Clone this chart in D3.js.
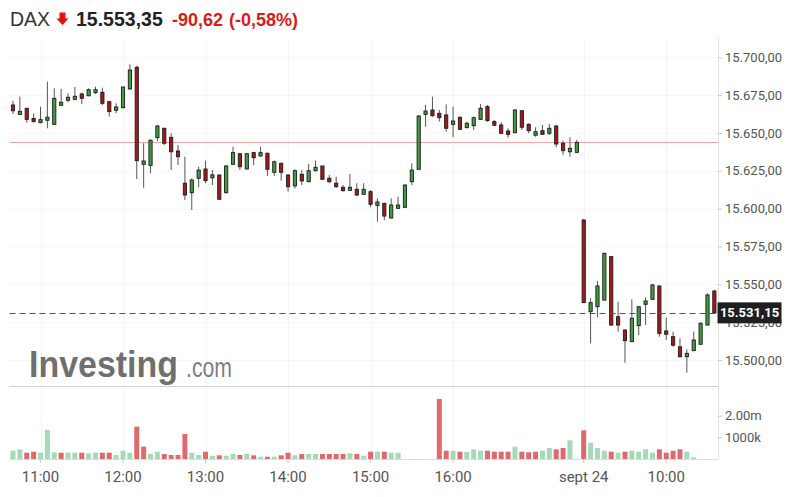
<!DOCTYPE html>
<html>
<head>
<meta charset="utf-8">
<script src="https://cdn.jsdelivr.net/npm/d3@7"></script>
<style>
  body { margin: 0; background: #fff; }
  svg { display: block; }
</style>
</head>
<body>
<div id="chart"></div>
<script>
// DAX 5-minute candles, 23 sept (10:40-17:30) and 24 sept (09:00-10:35)
const opens = [15668.5,15662.3,15666.3,15659.4,15656.8,15658.4,15655.7,15668.3,15671.6,15672.3,15675.8,15674.6,15676.6,15676.9,15670.7,15665.0,15666.7,15679.1,15693.4,15629.3,15628.6,15646.9,15653.1,15647.1,15638.1,15616.8,15610.5,15620.1,15626.2,15620.5,15622.2,15610.5,15629.3,15636.3,15626.2,15637.0,15634.8,15636.6,15624.0,15630.0,15622.2,15615.0,15622.7,15617.8,15625.1,15628.2,15620.1,15616.8,15614.1,15612.1,15612.8,15609.5,15611.2,15602.2,15603.5,15593.8,15600.2,15600.9,15617.8,15626.0,15662.3,15665.2,15663.0,15661.9,15655.7,15660.4,15653.5,15654.8,15659.0,15667.4,15657.5,15655.3,15651.3,15650.2,15664.7,15655.7,15648.5,15651.5,15649.8,15654.6,15643.2,15637.6,15637.2,
  15592.5,15531.9,15535.2,15539.6,15568.3,15528.6,15519.8,15512.1,15522.7,15536.8,15540.1,15548.9,15519.2,15515.4,15508.7,15502.2,15506.2,15510.4,15523.1,15545.6];
const highs = [15671.3,15674.0,15666.7,15663.0,15667.4,15683.9,15679.5,15679.1,15676.2,15680.4,15676.6,15679.5,15680.6,15679.9,15671.1,15669.6,15680.4,15695.4,15694.5,15643.2,15645.8,15655.3,15653.5,15649.8,15642.1,15634.3,15620.1,15627.7,15631.7,15625.5,15622.7,15628.8,15640.9,15636.6,15636.6,15637.6,15640.9,15637.0,15631.7,15630.4,15622.7,15626.0,15625.5,15629.5,15631.7,15628.4,15622.2,15621.1,15615.6,15622.9,15616.8,15616.8,15612.3,15606.8,15603.9,15606.8,15607.9,15616.1,15630.0,15661.9,15668.5,15674.0,15665.2,15668.9,15667.4,15660.8,15657.5,15660.8,15669.1,15668.5,15658.6,15657.1,15653.1,15665.6,15665.2,15656.4,15653.8,15655.3,15655.9,15655.3,15644.9,15647.1,15645.4,
  15593.0,15540.8,15552.2,15570.9,15568.8,15538.5,15520.3,15540.1,15535.7,15541.4,15550.2,15549.4,15528.0,15518.7,15514.3,15507.1,15518.7,15524.7,15544.1,15546.3];
const lows = [15662.5,15661.9,15656.8,15656.8,15656.4,15653.1,15655.7,15668.0,15670.3,15671.6,15669.1,15674.2,15675.8,15668.5,15660.8,15663.0,15666.3,15678.6,15619.6,15613.8,15623.4,15644.7,15642.1,15625.5,15628.8,15605.7,15599.1,15614.1,15616.8,15615.6,15605.7,15610.1,15629.3,15625.5,15626.0,15628.8,15634.3,15621.6,15621.6,15618.5,15611.2,15613.4,15615.6,15617.4,15624.4,15618.9,15616.8,15613.8,15611.2,15611.7,15608.4,15609.0,15600.9,15591.4,15592.5,15593.6,15600.2,15600.6,15615.6,15626.0,15654.1,15660.8,15657.5,15650.8,15647.1,15652.0,15653.1,15652.0,15658.6,15657.5,15654.6,15649.3,15646.9,15649.8,15652.0,15649.8,15647.5,15648.7,15648.7,15640.5,15635.5,15634.3,15636.6,
  15537.9,15511.0,15528.2,15539.2,15522.7,15518.7,15498.2,15512.1,15516.5,15523.1,15539.6,15515.4,15513.2,15508.7,15501.5,15491.6,15505.8,15510.0,15522.7,15531.0];
const closes = [15664.7,15664.3,15659.0,15657.7,15658.8,15660.4,15672.9,15670.3,15673.6,15674.2,15672.9,15678.6,15678.6,15669.6,15664.1,15667.2,15680.4,15691.6,15631.7,15631.5,15645.2,15654.6,15643.2,15637.6,15634.3,15609.0,15618.9,15625.5,15618.5,15622.2,15606.2,15628.2,15637.0,15627.7,15636.3,15633.7,15637.0,15626.0,15631.0,15624.0,15614.5,15625.1,15618.3,15625.1,15627.3,15619.4,15617.8,15614.5,15611.9,15614.1,15609.0,15612.8,15602.9,15604.4,15595.1,15602.4,15602.4,15615.6,15625.5,15661.2,15664.5,15661.4,15660.1,15653.1,15657.9,15652.4,15656.4,15660.1,15666.3,15658.1,15655.1,15649.8,15649.1,15665.2,15653.8,15651.5,15650.8,15649.1,15653.1,15642.7,15638.3,15639.9,15643.8,
  15537.9,15537.9,15548.9,15570.5,15523.1,15523.1,15512.8,15527.6,15535.2,15539.0,15549.6,15517.6,15517.0,15509.8,15502.2,15504.4,15513.2,15524.3,15543.0,15531.15];
// volume in thousands (null = no bar)
const volumes = [383,448,291,337,291,1340,310,291,291,291,291,263,291,291,291,185,383,291,1492,568,231,337,231,185,185,1155,291,185,337,152,171,152,231,185,231,171,106,106,106,171,291,171,231,231,231,231,231,231,231,263,231,152,337,337,337,291,291,null,null,null,null,null,2772,383,383,337,323,448,383,383,337,337,337,568,337,310,337,383,508,448,508,864,null,
  1326,753,508,383,337,291,337,383,337,448,291,448,291,383,448,337,79,null,null,null];
const volumeUp = [1,1,0,0,1,1,1,0,1,1,0,1,1,0,0,1,1,1,0,0,1,1,0,0,0,0,1,1,0,1,0,1,1,0,1,0,1,0,1,0,0,1,0,1,1,0,0,0,0,1,0,1,0,1,0,1,1,0,0,0,0,0,0,0,1,0,1,1,1,0,0,0,0,1,0,0,0,1,1,0,0,1,0,
  0,1,1,1,0,1,0,1,1,1,1,0,0,0,0,1,1,0,0,0];

const priceTicks = [15500,15525,15550,15575,15600,15625,15650,15675,15700];
const volumeTicks = [1000, 2000];
const volumeTickLabels = ["1000k", "2.00m"];
const timeTickKeys = ["23 11:00","23 12:00","23 13:00","23 14:00","23 15:00","23 16:00","24 09:00","24 10:00"];
const timeTickLabels = ["11:00","12:00","13:00","14:00","15:00","16:00","sept 24","10:00"];

const prevClose = 15643.97;
const lastPrice = 15531.15;
const headerName = "DAX";
const headerPrice = "15.553,35";
const headerChange = "-90,62";
const headerPct = "(-0,58%)";

function session(day, h, m, n) {
  const out = [];
  for (let i = 0; i < n; i++) {
    const t = h * 60 + m + i * 5;
    out.push(day + " " + String(Math.floor(t / 60)).padStart(2, "0") + ":" + String(t % 60).padStart(2, "0"));
  }
  return out;
}
const times = session("23", 10, 40, 83).concat(session("24", 9, 0, 20));

const data = times.map((t, i) => ({
  t: t, o: opens[i], h: highs[i], l: lows[i], c: closes[i], v: volumes[i], vu: volumeUp[i]
}));

const width = 787, height = 497;
const left = 9.5, right = 718;
const de = d3.formatLocale({decimal: ",", thousands: ".", grouping: [3], currency: ["", "€"]});
const fmt = de.format(",.2f");

const svg = d3.select("#chart").append("svg")
  .attr("width", width)
  .attr("height", height)
  .attr("viewBox", "0 0 " + width + " " + height)
  .style("font-family", "Roboto, 'Liberation Sans', Arial, sans-serif");

const x = d3.scaleBand().domain(times).range([9.56, 717.8]);
const cx = d => x(d) + x.bandwidth() / 2;
const y = d3.scaleLinear().domain([15500, 15700]).range([360.0, 57.3]);
const yv = d3.scaleLinear().domain([0, 2000]).range([459, 415.7]);

// grid (very faint)
const grid = svg.append("g");
grid.selectAll(".hg").data(priceTicks).enter().append("line")
  .attr("x1", left).attr("x2", right)
  .attr("y1", d => Math.round(y(d)) + 0.5).attr("y2", d => Math.round(y(d)) + 0.5)
  .attr("stroke", "#f7f7f7");
grid.selectAll(".vg").data(timeTickKeys).enter().append("line")
  .attr("x1", d => Math.round(cx(d)) + 0.5).attr("x2", d => Math.round(cx(d)) + 0.5)
  .attr("y1", 40).attr("y2", 459)
  .attr("stroke", "#f4f4f4");

// watermark
const wm = svg.append("g");
wm.append("text").attr("x", 29).attr("y", 377)
  .attr("font-family", "'Liberation Sans', Arial, sans-serif")
  .attr("font-size", 37).attr("font-weight", "bold")
  .attr("textLength", 149).attr("lengthAdjust", "spacingAndGlyphs")
  .attr("fill", "#555").attr("fill-opacity", 0.85)
  .text("Investing");
wm.append("text").attr("x", 186).attr("y", 377)
  .attr("font-family", "'Liberation Sans', Arial, sans-serif")
  .attr("font-size", 27)
  .attr("textLength", 46).attr("lengthAdjust", "spacingAndGlyphs")
  .attr("fill", "#666").attr("fill-opacity", 0.85)
  .text(".com");

// previous close line
svg.append("line")
  .attr("x1", left).attr("x2", right)
  .attr("y1", Math.round(y(prevClose)) + 0.5).attr("y2", Math.round(y(prevClose)) + 0.5)
  .attr("stroke", "#f2a3a3");

// candles
const candles = svg.append("g").selectAll("g").data(data).enter().append("g");
candles.append("line")
  .attr("x1", d => cx(d.t)).attr("x2", d => cx(d.t))
  .attr("y1", d => y(d.h)).attr("y2", d => y(d.l))
  .attr("stroke", "#555").attr("stroke-width", 1);
candles.append("rect")
  .attr("x", d => cx(d.t) - 1.6)
  .attr("width", 3.2)
  .attr("y", d => {
    const top = y(Math.max(d.o, d.c)), bot = y(Math.min(d.o, d.c));
    return bot - top < 3 ? (top + bot) / 2 - 1.5 : top;
  })
  .attr("height", d => Math.max(3, y(Math.min(d.o, d.c)) - y(Math.max(d.o, d.c))))
  .attr("fill", d => d.c >= d.o ? "#3f9c3f" : "#a31a1a")
  .attr("stroke", "#1c1c1c").attr("stroke-width", 0.9);

// last price dashed line
svg.append("line")
  .attr("x1", left).attr("x2", right)
  .attr("y1", Math.round(y(lastPrice)) + 0.5).attr("y2", Math.round(y(lastPrice)) + 0.5)
  .attr("stroke", "#555").attr("stroke-dasharray", "6,4");

// pane separator + right axis line
svg.append("line").attr("x1", left).attr("x2", right).attr("y1", 386.5).attr("y2", 386.5).attr("stroke", "#cfcfcf");
svg.append("line").attr("x1", right + 0.5).attr("x2", right + 0.5).attr("y1", 38).attr("y2", 460).attr("stroke", "#e3e3e3");

// volume
svg.append("g").selectAll("rect").data(data.filter(d => d.v != null)).enter().append("rect")
  .attr("x", d => cx(d.t) - 2.5)
  .attr("width", 5)
  .attr("y", d => yv(d.v))
  .attr("height", d => yv(0) - yv(d.v))
  .attr("fill", d => d.vu ? "#a6d9b8" : "#df6a6e");

// price axis
const pAxis = svg.append("g").attr("transform", "translate(" + right + ",0)")
  .call(d3.axisRight(y).tickValues(priceTicks).tickSize(4).tickPadding(3).tickFormat(fmt));
pAxis.select(".domain").remove();
pAxis.selectAll(".tick line").attr("stroke", "#ccc");
pAxis.selectAll("text").attr("fill", "#555").attr("font-size", 13).attr("font-family", "Roboto, sans-serif");

// volume axis
const vAxis = svg.append("g").attr("transform", "translate(" + right + ",0)")
  .call(d3.axisRight(yv).tickValues(volumeTicks).tickSize(4).tickPadding(3)
    .tickFormat((d, i) => volumeTickLabels[i]));
vAxis.select(".domain").remove();
vAxis.selectAll(".tick line").attr("stroke", "#ccc");
vAxis.selectAll("text").attr("fill", "#555").attr("font-size", 13).attr("font-family", "Roboto, sans-serif");

// time axis
const tAxis = svg.append("g").attr("transform", "translate(0,459)")
  .call(d3.axisBottom(x).tickValues(timeTickKeys).tickSize(4).tickPadding(8)
    .tickFormat((d, i) => timeTickLabels[i]));
tAxis.select(".domain").attr("d", "M" + left + ",0.5H" + right).attr("stroke", "#dedede");
tAxis.selectAll(".tick line").attr("stroke", "#ccc");
tAxis.selectAll("text").attr("fill", "#555").attr("font-size", 15).attr("font-family", "Roboto, sans-serif");

// last price label (covers the tick label below it, as in the original)
const ly = y(lastPrice);
svg.append("rect").attr("x", 717.5).attr("y", ly - 10.5).attr("width", 64).attr("height", 21).attr("fill", "#1f1f1f");
svg.append("text").attr("x", 749.5).attr("y", ly).attr("dy", "0.35em")
  .attr("text-anchor", "middle").attr("fill", "#fff")
  .attr("font-size", 13).attr("font-weight", "bold").attr("font-family", "Roboto, sans-serif")
  .text(fmt(lastPrice));

// header
const hd = svg.append("g").attr("font-family", "'Liberation Sans', Arial, sans-serif").attr("font-size", 19.5);
hd.append("text").attr("x", 10).attr("y", 26).attr("fill", "#333").text(headerName);
hd.append("path").attr("d", "M59.5,12.5H65.5V18.5H68.5L62.5,25L56.5,18.5H59.5Z").attr("fill", "#e0120f");
hd.append("text").attr("x", 76).attr("y", 26).attr("fill", "#222").attr("font-weight", "bold").text(headerPrice);
hd.append("text").attr("x", 172).attr("y", 26).attr("fill", "#dc1a1a").attr("font-weight", "bold").attr("font-size", 18).text(headerChange);
hd.append("text").attr("x", 229).attr("y", 26).attr("fill", "#dc1a1a").attr("font-weight", "bold").attr("font-size", 18).text(headerPct);
</script>
</body>
</html>
